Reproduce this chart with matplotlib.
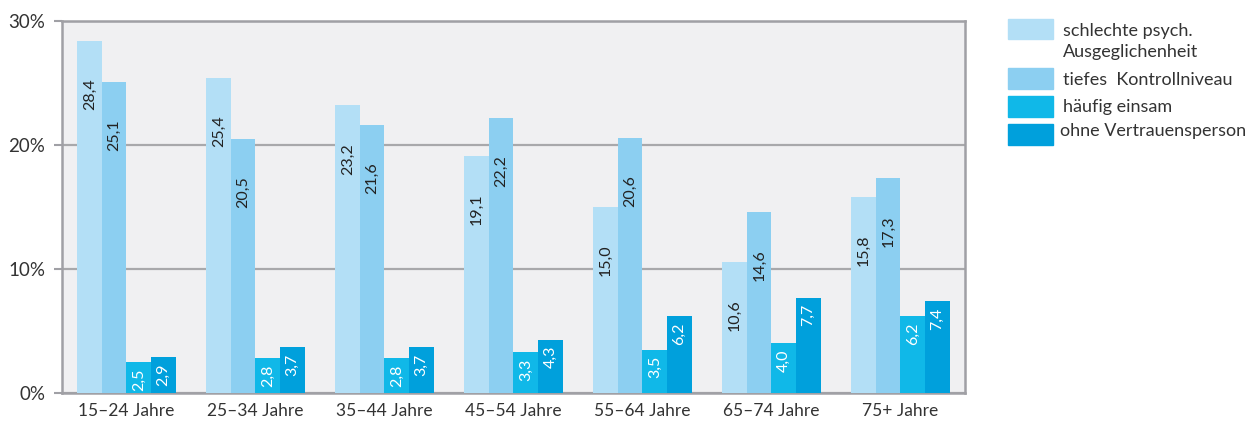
import matplotlib.pyplot as plt
from matplotlib.patches import Rectangle
import numpy as np

plt.rcParams['font.family'] = ['Lato', 'DejaVu Sans']

# Altersgruppen und Werte (%)
groups = ["15–24 Jahre", "25–34 Jahre", "35–44 Jahre", "45–54 Jahre",
          "55–64 Jahre", "65–74 Jahre", "75+ Jahre"]
series_names = ["schlechte psych.\nAusgeglichenheit", "tiefes  Kontrollniveau",
                "häufig einsam", "ohne Vertrauensperson"]
psych = [28.4, 25.4, 23.2, 19.1, 15.0, 10.6, 15.8]
kontrolle = [25.1, 20.5, 21.6, 22.2, 20.6, 14.6, 17.3]
einsam = [2.5, 2.8, 2.8, 3.3, 3.5, 4.0, 6.2]
vertrauen = [2.9, 3.7, 3.7, 4.3, 6.2, 7.7, 7.4]
y_ticks = [0, 10, 20, 30]
y_ticklabels = ["0%", "10%", "20%", "30%"]

colors = ["#b3dff6", "#8ccff1", "#10b8e8", "#00a0dc"]
text_colors = ["#222222", "#222222", "white", "white"]
label_pad = [27, 27, 4.5, 4.5]  # Abstand Beschriftung unter Balkenoberkante (pt)

W, H = 1249, 424
fig = plt.figure(figsize=(W / 100, H / 100), dpi=100)
ax = fig.add_axes([62 / W, 1 - 393 / H, (965 - 62) / W, (393 - 21) / H])
ax.set_facecolor("#f0f0f2")

x = np.arange(len(groups))
bw = 0.19
all_series = [psych, kontrolle, einsam, vertrauen]
for i, vals in enumerate(all_series):
    xs = x + (i - 1.5) * bw
    ax.bar(xs, vals, width=bw, color=colors[i], zorder=3, linewidth=0)
    for xi, v in zip(xs, vals):
        ax.annotate(f"{v:.1f}".replace(".", ","), xy=(xi, v),
                    xytext=(0, -label_pad[i]), textcoords="offset points",
                    rotation=90, ha="center", va="top",
                    fontsize=11.5, color=text_colors[i], zorder=4)

ax.set_xlim(-0.5, len(groups) - 0.5)
ax.set_ylim(0, 30)
ax.set_yticks(y_ticks)
ax.set_yticklabels(y_ticklabels, fontsize=13.5, color="#333333")
ax.set_xticks(x)
ax.set_xticklabels(groups, fontsize=12.5, color="#333333")
ax.tick_params(axis="x", length=0, pad=7)
ax.tick_params(axis="y", length=6, width=1.5, color="#a0a0a5", pad=6)
ax.yaxis.grid(True, color="#a8a8ab", linewidth=1.6, zorder=1)
for s in ax.spines.values():
    s.set_color("#a0a0a5")
    s.set_linewidth(1.8)

# Legende
leg_rows = [(19, 39, 31), (68, 89, 80), (96, 117, 107), (124, 145, 131)]
for i, (top, bot, ty) in enumerate(leg_rows):
    fig.patches.append(Rectangle((1008 / W, 1 - bot / H), 45 / W, (bot - top) / H,
                                 transform=fig.transFigure, color=colors[i]))
    tx = 1060 if i == 3 else 1063
    if i == 0:
        fig.text(tx / W, 1 - 31 / H, "schlechte psych.", fontsize=13,
                 color="#333333", va="center", ha="left")
        fig.text(tx / W, 1 - 52 / H, "Ausgeglichenheit", fontsize=13,
                 color="#333333", va="center", ha="left")
    else:
        fig.text(tx / W, 1 - ty / H, series_names[i], fontsize=13,
                 color="#333333", va="center", ha="left")

fig.savefig("out.png", dpi=100)
